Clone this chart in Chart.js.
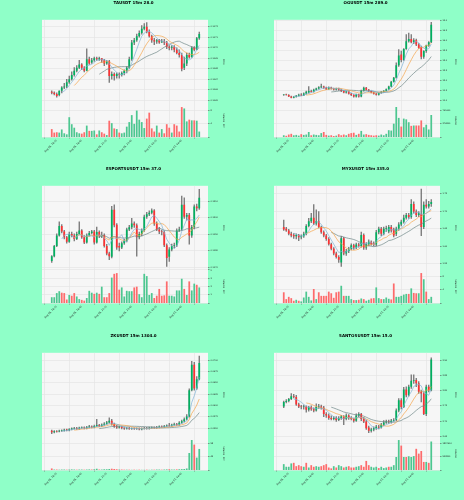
<!DOCTYPE html>
<html>
<head>
<meta charset="utf-8">
<script src="https://cdn.jsdelivr.net/npm/chart.js@4.4.1/dist/chart.umd.min.js"></script>
<style>
  html, body { margin: 0; padding: 0; background: #8fffc8; }
  #grid { position: relative; width: 464px; height: 500px; overflow: hidden; }
  #grid canvas { position: absolute; }
</style>
</head>
<body>
<div id="grid">
  <canvas id="tau" width="232" height="167" style="left:0;top:0"></canvas>
  <canvas id="og" width="232" height="167" style="left:232px;top:0"></canvas>
  <canvas id="esports" width="232" height="167" style="left:0;top:166px"></canvas>
  <canvas id="myx" width="232" height="167" style="left:232px;top:166px"></canvas>
  <canvas id="zk" width="232" height="167" style="left:0;top:333px"></canvas>
  <canvas id="santos" width="232" height="167" style="left:232px;top:333px"></canvas>
</div>
<script>
// shared x axis: 60 candles of 15m, labelled every 10th bar
const TICK_INDEX = [2, 12, 22, 32, 42, 52];
const TICK_LABELS = ["Aug 06, 16:15", "Aug 06, 18:45", "Aug 06, 21:15", "Aug 06, 23:45", "Aug 07, 02:15", "Aug 07, 04:45"];
const MAV_PERIODS = [5, 10, 20];

// TAUSDT
const TAU_OPEN = [0.10658,0.10657,0.10656,0.10655,0.10659,0.10662,0.10663,0.10667,0.10670,0.10674,0.10678,0.10681,0.10684,0.10681,0.10678,0.10689,0.10686,0.10688,0.10690,0.10689,0.10690,0.10688,0.10685,0.10687,0.10673,0.10675,0.10673,0.10675,0.10674,0.10676,0.10678,0.10681,0.10689,0.10705,0.10707,0.10711,0.10714,0.10718,0.10720,0.10715,0.10711,0.10707,0.10706,0.10707,0.10705,0.10706,0.10705,0.10701,0.10700,0.10701,0.10698,0.10695,0.10693,0.10681,0.10685,0.10693,0.10691,0.10700,0.10698,0.10709];
const TAU_HIGH = [0.10659,0.10658,0.10657,0.10659,0.10663,0.10666,0.10670,0.10673,0.10677,0.10681,0.10683,0.10688,0.10685,0.10682,0.10699,0.10691,0.10690,0.10691,0.10691,0.10691,0.10690,0.10689,0.10688,0.10688,0.10677,0.10676,0.10676,0.10676,0.10677,0.10679,0.10682,0.10691,0.10707,0.10709,0.10713,0.10716,0.10721,0.10723,0.10724,0.10717,0.10712,0.10709,0.10708,0.10708,0.10708,0.10708,0.10706,0.10702,0.10702,0.10702,0.10700,0.10698,0.10695,0.10691,0.10695,0.10695,0.10701,0.10701,0.10710,0.10715];
const TAU_LOW = [0.10656,0.10655,0.10653,0.10654,0.10657,0.10661,0.10662,0.10666,0.10669,0.10673,0.10677,0.10680,0.10679,0.10677,0.10678,0.10684,0.10685,0.10687,0.10688,0.10688,0.10686,0.10683,0.10684,0.10667,0.10670,0.10669,0.10671,0.10671,0.10673,0.10674,0.10676,0.10680,0.10688,0.10703,0.10706,0.10710,0.10713,0.10717,0.10714,0.10710,0.10705,0.10703,0.10704,0.10704,0.10705,0.10703,0.10699,0.10698,0.10698,0.10696,0.10694,0.10691,0.10678,0.10679,0.10683,0.10690,0.10691,0.10697,0.10698,0.10708];
const TAU_CLOSE = [0.10657,0.10656,0.10654,0.10659,0.10662,0.10663,0.10667,0.10670,0.10674,0.10678,0.10681,0.10684,0.10681,0.10678,0.10689,0.10685,0.10688,0.10690,0.10689,0.10690,0.10688,0.10685,0.10687,0.10673,0.10675,0.10673,0.10675,0.10674,0.10676,0.10678,0.10681,0.10689,0.10705,0.10707,0.10711,0.10714,0.10718,0.10720,0.10715,0.10711,0.10707,0.10706,0.10707,0.10705,0.10706,0.10705,0.10701,0.10700,0.10701,0.10698,0.10695,0.10693,0.10680,0.10685,0.10693,0.10691,0.10700,0.10698,0.10709,0.10713];
const TAU_VOLUME = [250000,150000,160000,150000,240000,130000,100000,590000,390000,290000,160000,130000,120000,160000,350000,200000,200000,210000,100000,210000,160000,120000,80000,490000,420000,270000,250000,150000,130000,150000,320000,450000,650000,400000,780000,520000,450000,280000,550000,720000,270000,180000,350000,150000,250000,130000,390000,290000,150000,390000,350000,180000,880000,840000,470000,520000,500000,500000,490000,180000];

// OGUSDT
const OG_OPEN = [11.25,11.28,11.25,11.18,11.12,11.17,11.22,11.27,11.23,11.33,11.38,11.45,11.42,11.52,11.58,11.65,11.68,11.62,11.55,11.63,11.58,11.53,11.58,11.52,11.45,11.38,11.43,11.32,11.25,11.18,11.28,11.18,11.47,11.62,11.52,11.45,11.38,11.32,11.27,11.35,11.42,11.47,11.55,11.68,11.92,12.13,12.75,13.30,13.02,13.58,13.97,14.08,13.92,14.02,13.80,13.68,13.18,13.47,13.75,13.92];
const OG_HIGH = [11.28,11.30,11.27,11.20,11.18,11.24,11.30,11.32,11.36,11.45,11.68,11.50,11.55,11.60,11.68,11.80,11.70,11.65,11.66,11.65,11.60,11.60,11.60,11.55,11.48,11.45,11.45,11.34,11.28,11.30,11.30,11.50,11.65,11.64,11.54,11.47,11.40,11.34,11.36,11.43,11.48,11.56,11.70,11.95,12.15,12.88,13.55,13.47,13.60,14.30,14.38,14.30,14.10,14.08,13.85,13.72,13.50,13.78,13.95,14.92];
const OG_LOW = [11.23,11.24,11.17,11.10,11.10,11.15,11.20,11.22,11.22,11.30,11.35,11.40,11.40,11.50,11.55,11.62,11.58,11.52,11.53,11.55,11.50,11.50,11.48,11.42,11.36,11.35,11.30,11.22,11.15,11.15,11.15,11.16,11.45,11.50,11.42,11.36,11.30,11.24,11.25,11.33,11.40,11.45,11.53,11.66,11.90,12.10,12.70,12.92,13.00,13.55,13.92,13.88,13.85,13.75,13.60,13.08,13.10,13.40,13.70,13.90];
const OG_CLOSE = [11.28,11.25,11.18,11.12,11.17,11.22,11.27,11.23,11.33,11.42,11.45,11.42,11.52,11.58,11.65,11.68,11.62,11.55,11.63,11.58,11.53,11.58,11.52,11.45,11.38,11.43,11.32,11.25,11.18,11.28,11.18,11.47,11.62,11.52,11.45,11.38,11.32,11.27,11.35,11.42,11.47,11.55,11.68,11.92,12.13,12.75,13.25,13.02,13.58,13.97,14.08,13.92,14.02,13.80,13.63,13.18,13.47,13.75,13.92,14.80];
const OG_VOLUME = [60000,45000,80000,100000,60000,70000,50000,90000,70000,80000,150000,60000,80000,70000,60000,120000,150000,70000,50000,60000,40000,50000,90000,60000,80000,60000,100000,120000,130000,70000,100000,180000,80000,90000,70000,60000,50000,60000,50000,80000,60000,100000,200000,190000,380000,840000,540000,300000,520000,500000,420000,320000,330000,330000,330000,470000,280000,350000,220000,620000];

// ESPORTSUSDT
const ESPORTS_OPEN = [0.11738,0.11767,0.11829,0.11892,0.11950,0.11917,0.11881,0.11854,0.11902,0.11892,0.11871,0.11902,0.11923,0.11881,0.11850,0.11892,0.11908,0.11917,0.11850,0.11913,0.11888,0.11896,0.11829,0.11783,0.11763,0.12048,0.11958,0.11829,0.11819,0.11846,0.11860,0.11929,0.11942,0.11965,0.11954,0.11881,0.11902,0.11923,0.12006,0.12021,0.12031,0.12044,0.11965,0.11929,0.11917,0.11913,0.11833,0.11763,0.11808,0.11829,0.11833,0.11923,0.11929,0.12079,0.12006,0.12017,0.11892,0.11944,0.12069,0.12058];
const ESPORTS_HIGH = [0.11771,0.11833,0.11902,0.11975,0.11958,0.11923,0.11888,0.11913,0.11913,0.11902,0.11913,0.11975,0.11929,0.11892,0.11902,0.11917,0.11923,0.11923,0.11944,0.11921,0.11913,0.11902,0.11838,0.11792,0.12069,0.12079,0.11965,0.11846,0.11854,0.11871,0.11938,0.11954,0.11996,0.11975,0.11963,0.11913,0.11933,0.12017,0.12033,0.12042,0.12054,0.12050,0.11975,0.11942,0.11925,0.11921,0.11842,0.11819,0.11840,0.11846,0.11933,0.11944,0.12131,0.12121,0.12027,0.12027,0.11954,0.12079,0.12083,0.12173];
const ESPORTS_LOW = [0.11729,0.11763,0.11825,0.11888,0.11908,0.11871,0.11846,0.11850,0.11883,0.11860,0.11867,0.11896,0.11875,0.11842,0.11846,0.11888,0.11902,0.11840,0.11846,0.11879,0.11879,0.11821,0.11775,0.11746,0.11756,0.11944,0.11808,0.11798,0.11813,0.11838,0.11854,0.11921,0.11933,0.11942,0.11767,0.11871,0.11892,0.11917,0.11996,0.12012,0.12023,0.11954,0.11921,0.11904,0.11896,0.11825,0.11704,0.11735,0.11798,0.11817,0.11825,0.11917,0.11921,0.11996,0.11985,0.11840,0.11881,0.11933,0.12042,0.12050];
const ESPORTS_CLOSE = [0.11767,0.11829,0.11892,0.11950,0.11917,0.11881,0.11854,0.11902,0.11892,0.11871,0.11902,0.11923,0.11881,0.11850,0.11892,0.11908,0.11917,0.11850,0.11913,0.11888,0.11896,0.11829,0.11783,0.11767,0.12048,0.11954,0.11819,0.11819,0.11846,0.11860,0.11929,0.11942,0.11965,0.11954,0.11881,0.11902,0.11923,0.12006,0.12021,0.12031,0.12044,0.11965,0.11929,0.11917,0.11913,0.11833,0.11756,0.11808,0.11829,0.11833,0.11923,0.11929,0.12079,0.12006,0.12017,0.11892,0.11944,0.12069,0.12058,0.12121];
const ESPORTS_VOLUME = [90000,90000,145000,170000,150000,145000,60000,120000,110000,145000,100000,65000,55000,45000,80000,175000,150000,135000,150000,135000,230000,90000,90000,145000,350000,400000,410000,190000,220000,100000,175000,170000,170000,220000,230000,130000,90000,400000,370000,120000,145000,80000,110000,200000,110000,115000,300000,110000,110000,100000,180000,180000,335000,200000,120000,300000,180000,270000,255000,220000];

// MYXUSDT
const MYX_OPEN = [1.6550,1.6501,1.6452,1.6354,1.6325,1.6285,1.6325,1.6256,1.6285,1.6354,1.6579,1.6717,1.6815,1.6648,1.6717,1.6550,1.6403,1.6305,1.6207,1.6060,1.5933,1.5795,1.5697,1.5541,1.6227,1.5795,1.5864,1.5933,1.6031,1.5962,1.6050,1.6011,1.6325,1.5962,1.6060,1.6129,1.6089,1.6050,1.6403,1.6501,1.6354,1.6501,1.6423,1.6550,1.6481,1.6354,1.6501,1.6619,1.6697,1.6815,1.6893,1.6834,1.7207,1.6991,1.6893,1.6913,1.6550,1.7187,1.7138,1.7207];
const MYX_HIGH = [1.6746,1.6540,1.6481,1.6403,1.6364,1.6354,1.6344,1.6325,1.6403,1.6619,1.6795,1.6942,1.7187,1.7040,1.6991,1.6579,1.6442,1.6344,1.6246,1.6089,1.5962,1.5835,1.5737,1.6285,1.6256,1.5913,1.5972,1.6070,1.6060,1.6089,1.6089,1.6403,1.6354,1.6109,1.6187,1.6158,1.6129,1.6452,1.6550,1.6540,1.6550,1.6579,1.6599,1.6599,1.6521,1.6550,1.6677,1.6746,1.6893,1.6942,1.6942,1.7334,1.7265,1.7040,1.6991,1.7628,1.7265,1.7334,1.7285,1.7334];
const MYX_LOW = [1.6452,1.6423,1.6325,1.6266,1.6227,1.6207,1.6158,1.6207,1.6256,1.6325,1.6550,1.6677,1.6619,1.6599,1.6521,1.6364,1.6266,1.6168,1.6031,1.5893,1.5756,1.5658,1.5541,1.5423,1.5756,1.5737,1.5815,1.5893,1.5913,1.5933,1.5972,1.5972,1.5913,1.5913,1.6011,1.6031,1.6011,1.6011,1.6354,1.6305,1.6325,1.6423,1.6383,1.6403,1.6266,1.6305,1.6452,1.6579,1.6658,1.6775,1.6795,1.6795,1.6942,1.6844,1.6844,1.6305,1.6501,1.7089,1.7089,1.7138];
const MYX_CLOSE = [1.6481,1.6452,1.6354,1.6305,1.6285,1.6325,1.6256,1.6285,1.6354,1.6579,1.6717,1.6815,1.6648,1.6717,1.6550,1.6403,1.6305,1.6207,1.6060,1.5933,1.5795,1.5697,1.5619,1.6227,1.5795,1.5864,1.5933,1.6031,1.5962,1.6050,1.6011,1.6325,1.5962,1.6060,1.6129,1.6060,1.6050,1.6403,1.6501,1.6354,1.6501,1.6521,1.6550,1.6452,1.6305,1.6501,1.6619,1.6697,1.6815,1.6893,1.6834,1.7207,1.6991,1.6893,1.6942,1.6550,1.7187,1.7138,1.7207,1.7265];
const MYX_VOLUME = [350000,140000,210000,170000,90000,120000,90000,70000,190000,370000,210000,100000,450000,140000,350000,240000,240000,240000,370000,320000,180000,350000,370000,550000,240000,240000,240000,140000,110000,110000,120000,160000,140000,90000,120000,160000,170000,500000,170000,140000,140000,190000,150000,130000,620000,210000,210000,240000,280000,300000,300000,470000,330000,320000,320000,940000,750000,370000,140000,210000];

// ZKUSDT
const ZK_OPEN = [0.05439,0.05409,0.05431,0.05424,0.05439,0.05446,0.05461,0.05454,0.05476,0.05491,0.05499,0.05484,0.05506,0.05514,0.05499,0.05521,0.05536,0.05521,0.05544,0.05566,0.05544,0.05574,0.05596,0.05626,0.05664,0.05589,0.05536,0.05514,0.05529,0.05499,0.05491,0.05499,0.05484,0.05491,0.05484,0.05491,0.05476,0.05491,0.05499,0.05491,0.05506,0.05514,0.05506,0.05521,0.05536,0.05529,0.05544,0.05559,0.05551,0.05574,0.05589,0.05574,0.05619,0.05649,0.05694,0.05754,0.06339,0.06902,0.06377,0.06580];
const ZK_HIGH = [0.05454,0.05446,0.05446,0.05454,0.05461,0.05476,0.05476,0.05491,0.05506,0.05514,0.05514,0.05521,0.05529,0.05529,0.05536,0.05559,0.05551,0.05566,0.05694,0.05581,0.05596,0.05619,0.05649,0.05724,0.05694,0.05611,0.05559,0.05544,0.05544,0.05521,0.05514,0.05514,0.05506,0.05506,0.05506,0.05506,0.05506,0.05514,0.05514,0.05521,0.05529,0.05529,0.05536,0.05551,0.05551,0.05559,0.05574,0.05604,0.05589,0.05611,0.05604,0.05641,0.05679,0.05724,0.05799,0.06369,0.06977,0.06955,0.06640,0.07090];
const ZK_LOW = [0.05379,0.05394,0.05409,0.05416,0.05424,0.05431,0.05439,0.05439,0.05461,0.05476,0.05469,0.05469,0.05491,0.05484,0.05484,0.05506,0.05506,0.05506,0.05529,0.05529,0.05529,0.05559,0.05581,0.05611,0.05566,0.05514,0.05491,0.05499,0.05484,0.05469,0.05476,0.05469,0.05469,0.05469,0.05469,0.05461,0.05461,0.05476,0.05476,0.05476,0.05491,0.05491,0.05491,0.05506,0.05514,0.05514,0.05529,0.05536,0.05536,0.05559,0.05559,0.05559,0.05604,0.05634,0.05679,0.05739,0.06324,0.06339,0.06354,0.06565];
const ZK_CLOSE = [0.05409,0.05431,0.05424,0.05439,0.05446,0.05461,0.05454,0.05476,0.05491,0.05499,0.05484,0.05506,0.05514,0.05499,0.05521,0.05536,0.05521,0.05544,0.05566,0.05544,0.05574,0.05596,0.05626,0.05664,0.05589,0.05536,0.05514,0.05529,0.05499,0.05491,0.05499,0.05484,0.05491,0.05484,0.05491,0.05476,0.05491,0.05499,0.05491,0.05506,0.05514,0.05506,0.05521,0.05536,0.05529,0.05544,0.05559,0.05551,0.05574,0.05589,0.05574,0.05619,0.05649,0.05694,0.05754,0.06339,0.06902,0.06377,0.06580,0.06940];
const ZK_VOLUME = [600000,200000,200000,150000,200000,200000,150000,200000,250000,200000,150000,200000,200000,150000,200000,250000,200000,300000,500000,200000,200000,300000,300000,400000,500000,400000,300000,200000,200000,150000,150000,150000,100000,150000,100000,150000,100000,100000,150000,100000,150000,150000,200000,200000,150000,200000,250000,300000,200000,200000,250000,300000,350000,400000,600000,6300000,11100000,9400000,4600000,7800000];

// SANTOSUSDT
const SANTOS_OPEN = [2.7483,2.7628,2.7661,2.7728,2.7817,2.7795,2.7550,2.7483,2.7460,2.7483,2.7371,2.7460,2.7393,2.7349,2.7460,2.7483,2.7438,2.7237,2.7181,2.7103,2.7070,2.7103,2.7036,2.7103,2.7148,2.7070,2.7181,2.7103,2.7070,2.7014,2.7181,2.7237,2.7070,2.6991,2.6791,2.6679,2.6724,2.6768,2.6813,2.6791,2.6880,2.6958,2.6991,2.6969,2.7014,2.7036,2.7349,2.7683,2.7460,2.8041,2.7851,2.8130,2.8331,2.8353,2.8241,2.7962,2.7907,2.7237,2.8130,2.8018];
const SANTOS_HIGH = [2.7661,2.7706,2.7750,2.7907,2.7884,2.7851,2.7594,2.7516,2.7527,2.7505,2.7483,2.7505,2.7438,2.7572,2.7550,2.7527,2.7483,2.7282,2.7237,2.7170,2.7148,2.7148,2.7148,2.7192,2.7181,2.7237,2.7215,2.7148,2.7103,2.7237,2.7282,2.7259,2.7125,2.7036,2.6835,2.6768,2.6813,2.6858,2.6858,2.6925,2.7014,2.7036,2.7036,2.7058,2.7081,2.7404,2.7739,2.7739,2.8108,2.8130,2.8186,2.8520,2.8520,2.8409,2.8297,2.8018,2.7962,2.8186,2.8186,2.9078];
const SANTOS_LOW = [2.7438,2.7594,2.7628,2.7706,2.7762,2.7516,2.7438,2.7404,2.7393,2.7293,2.7326,2.7349,2.7304,2.7326,2.7416,2.7393,2.7148,2.7125,2.7058,2.7036,2.7036,2.6991,2.7014,2.7058,2.6880,2.7036,2.7058,2.7036,2.6969,2.6991,2.7148,2.7014,2.6947,2.6724,2.6623,2.6634,2.6679,2.6724,2.6746,2.6768,2.6847,2.6925,2.6925,2.6936,2.6991,2.7014,2.7304,2.7404,2.7438,2.7795,2.7817,2.8074,2.8241,2.8130,2.7907,2.7628,2.7215,2.7181,2.7962,2.7996];
const SANTOS_CLOSE = [2.7628,2.7661,2.7728,2.7817,2.7795,2.7550,2.7483,2.7460,2.7483,2.7371,2.7460,2.7393,2.7349,2.7460,2.7483,2.7438,2.7237,2.7181,2.7103,2.7070,2.7103,2.7036,2.7103,2.7148,2.7070,2.7181,2.7103,2.7070,2.7014,2.7181,2.7237,2.7070,2.6991,2.6768,2.6679,2.6724,2.6768,2.6813,2.6791,2.6880,2.6958,2.6991,2.6969,2.7014,2.7036,2.7349,2.7683,2.7460,2.8041,2.7851,2.8130,2.8331,2.8353,2.8241,2.7962,2.7907,2.7237,2.8130,2.8018,2.9023];
const SANTOS_VOLUME = [450000,270000,270000,500000,540000,310000,380000,310000,270000,540000,220000,380000,270000,310000,270000,310000,380000,450000,220000,160000,310000,220000,380000,310000,220000,270000,310000,220000,220000,270000,310000,380000,270000,670000,380000,270000,220000,270000,180000,270000,180000,220000,270000,270000,380000,940000,2100000,1720000,940000,940000,990000,940000,1000000,1500000,1170000,1350000,600000,600000,540000,2000000];

const UP = "#00b060", DOWN = "#fe3032";
const VOL_UP = "#4dc790", VOL_DOWN = "#fd6b6c";
const WICK = "#707070";
const MAV_COLORS = ["#7fb3d5", "#f5a54a", "#6f8787"];
const GRID = "#e2e2e2", TEXT = "#222";

Chart.defaults.font.family = "'DejaVu Sans', sans-serif";
Chart.defaults.color = TEXT;

function sma(values, n) {
  return values.map((_, i) => {
    if (i < n - 1) return null;
    let sum = 0;
    for (let k = i - n + 1; k <= i; k++) sum += values[k];
    return sum / n;
  });
}

const paneBackground = {
  id: "paneBackground",
  beforeDraw(chart) {
    const { ctx, chartArea: a } = chart;
    ctx.save();
    ctx.fillStyle = "#f6f6f6";
    ctx.fillRect(a.left, a.top, a.right - a.left, a.bottom - a.top);
    ctx.restore();
  },
};

function makeChart(id, s) {
  const idx = s.close.map((_, i) => i);
  const up = idx.map((i) => s.close[i] >= s.open[i]);
  const datasets = MAV_PERIODS.map((n, k) => {
    const ma = sma(s.close, n);
    return {
      type: "line",
      data: idx.map((i) => ({ x: i, y: ma[i] })),
      yAxisID: "price",
      borderColor: MAV_COLORS[k],
      borderWidth: 0.7,
      pointRadius: 0,
      order: 0,
    };
  });
  datasets.push({
    data: idx.map((i) => ({ x: i, y: [s.open[i], s.close[i]] })),
    yAxisID: "price",
    backgroundColor: up.map((u) => (u ? UP : DOWN)),
    barPercentage: 0.7,
    categoryPercentage: 1,
    minBarLength: 0.6,
    grouped: false,
    order: 1,
  });
  datasets.push({
    data: idx.map((i) => ({ x: i, y: [s.low[i], s.high[i]] })),
    yAxisID: "price",
    backgroundColor: WICK,
    barThickness: 0.6,
    grouped: false,
    order: 2,
  });
  datasets.push({
    data: idx.map((i) => ({ x: i, y: s.volume[i] })),
    yAxisID: "vol",
    backgroundColor: up.map((u) => (u ? VOL_UP : VOL_DOWN)),
    barPercentage: 0.7,
    categoryPercentage: 1,
    grouped: false,
    order: 3,
  });

  const volMin = 0.3 * Math.min(...s.volume);
  const volMax = 1.1 * Math.max(...s.volume);

  new Chart(document.getElementById(id), {
    type: "bar",
    data: { datasets },
    plugins: [paneBackground],
    options: {
      responsive: false,
      animation: false,
      devicePixelRatio: 1,
      layout: { padding: { left: 42, right: 7, top: 0, bottom: 0 } },
      plugins: {
        legend: { display: false },
        tooltip: { enabled: false },
        title: {
          display: true,
          text: s.title,
          color: "#000",
          font: { size: 4, weight: "bold" },
          padding: { top: 1, bottom: 14 },
        },
      },
      scales: {
        x: {
          type: "linear",
          min: -3.9,
          max: 62.5,
          offset: false,
          grid: { color: GRID, lineWidth: 0.6, tickLength: 1.5, tickColor: "#555" },
          border: { display: false },
          afterBuildTicks: (axis) => { axis.ticks = TICK_INDEX.map((v) => ({ value: v })); },
          afterFit: (axis) => { axis.height = 30; },
          ticks: {
            autoSkip: false,
            minRotation: 45,
            maxRotation: 45,
            padding: 0.5,
            font: { size: 2.4 },
            callback: (v) => TICK_LABELS[TICK_INDEX.indexOf(v)] || "",
          },
        },
        price: {
          type: "linear",
          position: "right",
          stack: "pane",
          stackWeight: 2.55,
          min: s.priceMin,
          max: s.priceMax,
          grid: { color: GRID, lineWidth: 0.6, tickLength: 1.5, tickColor: "#555" },
          border: { display: false },
          afterFit: (axis) => { axis.width = 17; },
          title: { display: true, text: "Price", font: { size: 2.4 }, padding: 0 },
          ticks: {
            stepSize: s.priceStep,
            includeBounds: false,
            padding: 1,
            font: { size: 2.1 },
            callback: (v) => v.toFixed(s.priceDecimals),
          },
        },
        vol: {
          type: "linear",
          position: "right",
          stack: "pane",
          stackWeight: 1,
          min: volMin,
          max: volMax,
          grid: { color: GRID, lineWidth: 0.6, tickLength: 1.5, tickColor: "#555" },
          border: { display: false },
          afterFit: (axis) => { axis.width = 17; },
          title: { display: true, text: s.volTitle, font: { size: 2.4 }, padding: 0 },
          ticks: {
            stepSize: s.volStep,
            includeBounds: false,
            padding: 1,
            font: { size: 2.1 },
            callback: (v) => (v < s.volStep / 2 ? "" : String(Math.round(v / s.volScale))),
          },
        },
      },
    },
  });
}

makeChart("tau", { title: "TAUSDT 15m 28.0", open: TAU_OPEN, high: TAU_HIGH, low: TAU_LOW, close: TAU_CLOSE, volume: TAU_VOLUME,
  priceMin: 0.106464, priceMax: 0.107266, priceStep: 0.0001, priceDecimals: 4, volStep: 200000, volScale: 100000, volTitle: "Volume  10\u2075" });
makeChart("og", { title: "OGUSDT 15m 289.0", open: OG_OPEN, high: OG_HIGH, low: OG_LOW, close: OG_CLOSE, volume: OG_VOLUME,
  priceMin: 10.80, priceMax: 15.05, priceStep: 0.5, priceDecimals: 1, volStep: 200000, volScale: 1, volTitle: "Volume" });
makeChart("esports", { title: "ESPORTSUSDT 15m 37.0", open: ESPORTS_OPEN, high: ESPORTS_HIGH, low: ESPORTS_LOW, close: ESPORTS_CLOSE, volume: ESPORTS_VOLUME,
  priceMin: 0.11683, priceMax: 0.12194, priceStep: 0.001, priceDecimals: 4, volStep: 100000, volScale: 100000, volTitle: "Volume  10\u2075" });
makeChart("myx", { title: "MYXUSDT 15m 335.0", open: MYX_OPEN, high: MYX_HIGH, low: MYX_LOW, close: MYX_CLOSE, volume: MYX_VOLUME,
  priceMin: 1.5324, priceMax: 1.7725, priceStep: 0.05, priceDecimals: 2, volStep: 200000, volScale: 100000, volTitle: "Volume  10\u2075" });
makeChart("zk", { title: "ZKUSDT 15m 1304.0", open: ZK_OPEN, high: ZK_HIGH, low: ZK_LOW, close: ZK_CLOSE, volume: ZK_VOLUME,
  priceMin: 0.05303, priceMax: 0.07165, priceStep: 0.0025, priceDecimals: 4, volStep: 2500000, volScale: 100000, volTitle: "Volume  10\u2075" });
makeChart("santos", { title: "SANTOSUSDT 15m 15.0", open: SANTOS_OPEN, high: SANTOS_HIGH, low: SANTOS_LOW, close: SANTOS_CLOSE, volume: SANTOS_VOLUME,
  priceMin: 2.6478, priceMax: 2.9246, priceStep: 0.05, priceDecimals: 2, volStep: 500000, volScale: 1, volTitle: "Volume" });
</script>
</body>
</html>
